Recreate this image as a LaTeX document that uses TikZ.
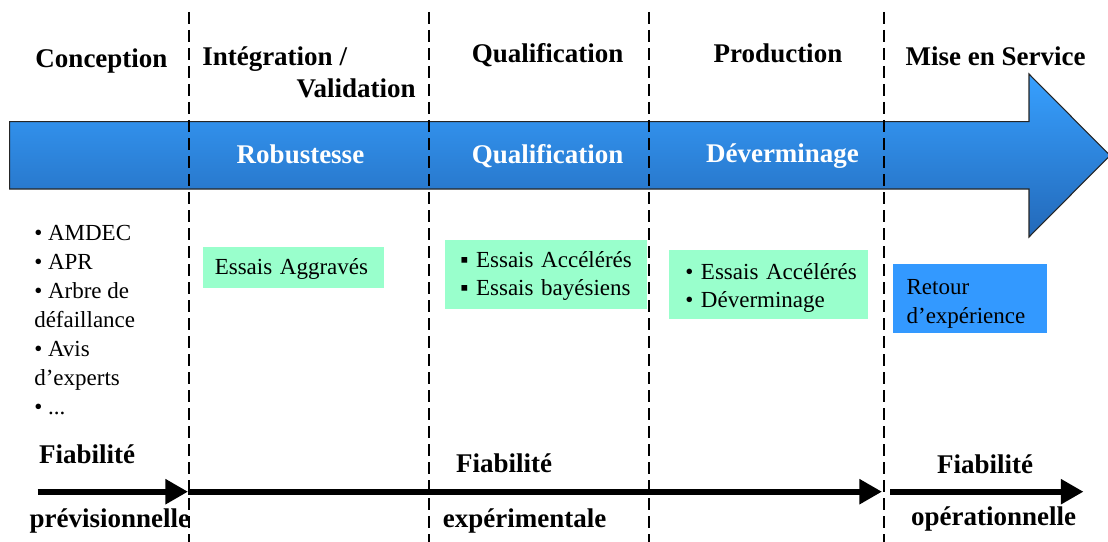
\documentclass[tikz,border=0pt]{standalone}
\usepackage{fontspec}
\setmainfont{Liberation Serif}
\usetikzlibrary{arrows.meta}
\definecolor{mint}{RGB}{153,255,204}
\definecolor{skyb}{RGB}{51,153,255}
\definecolor{arrtop}{RGB}{55,160,255}
\definecolor{arrbot}{RGB}{35,105,185}
\newcommand{\dropline}[1]{\rule{0pt}{#1}}
\begin{document}
\begin{tikzpicture}[x=0.75pt,y=-0.75pt,
  hdr/.style={font=\bfseries\fontsize{20.25}{24}\selectfont, inner sep=0, anchor=base},
  inarrow/.style={hdr, text=white},
  mintbox/.style={fill=mint, anchor=north west, inner ysep=0, align=left},
  sep/.style={line width=2.2pt, dash pattern=on 9pt off 4.5pt},
  fiab/.style={line width=4.3pt, -{Triangle[length=17pt,width=18pt]}}
]
\useasboundingbox (0,0) rectangle (1108,542);

% big blue arrow
\shadedraw[top color=arrtop, bottom color=arrbot, draw=black!85, line width=0.8pt]
  (9.6,121.7) -- (1029,121.7) -- (1029,74) -- (1110,155.5) -- (1029,237) -- (1029,189) -- (9.6,189) -- cycle;

% headers
\node[hdr] (conc) at (101.5,68) {Conception};
\node[hdr, anchor=base west] (integ) at (202,66) {Intégration /};
\node[hdr, anchor=base east] (valid) at (416,98) {Validation};
\node[hdr] (qualh) at (547.5,63) {Qualification};
\node[hdr] (prodh) at (778,63) {Production};
\node[hdr] (mise) at (995.5,66) {Mise en Service};

% labels in the arrow
\node[inarrow] (robu) at (300.5,164) {Robustesse};
\node[inarrow] (quala) at (547.5,163) {Qualification};
\node[inarrow] (deva) at (782.5,162) {Déverminage};

% left list
\node[anchor=north west, inner sep=0, align=left, font=\fontsize{17.25}{21.75}\selectfont] (list) at (34,225.5)
  {• AMDEC\\• APR\\• Arbre de\\défaillance\\• Avis\\d’experts\\• ...};

% boxes
\node[mintbox, minimum width=136pt, minimum height=30.75pt, text width=118pt, inner xsep=9pt,
  font=\fontsize{17.25}{21.75}\selectfont] (aggr) at (202.5,246.7) {\dropline{15pt}Essais Aggravés};
\node[mintbox, minimum width=151.5pt, minimum height=51.75pt, text width=129pt, inner xsep=11.25pt,
  font=\fontsize{17.25}{21}\selectfont] (qbox) at (445,240)
  {\mbox{\dropline{14pt}▪ Essais Accélérés}\\\mbox{▪ Essais bayésiens}};
\node[mintbox, minimum width=149.25pt, minimum height=51.75pt, text width=125.25pt, inner xsep=10.5pt,
  font=\fontsize{17.25}{20.75}\selectfont] (pbox) at (669,250)
  {\mbox{\dropline{16.5pt}• Essais Accélérés}\\\mbox{• Déverminage}};
\node[mintbox, fill=skyb, minimum width=114.75pt, minimum height=51.5pt, text width=95.25pt, inner xsep=10pt,
  font=\fontsize{17.25}{21.75}\selectfont] (rbox) at (893,264)
  {\dropline{19pt}Retour\\d’expérience};

% bottom labels
\node[hdr] (fia1) at (87,463) {Fiabilité};
\node[hdr] (fia2) at (504,472) {Fiabilité};
\node[hdr] (fia3) at (985,473) {Fiabilité};
\node[hdr] (prev) at (109.8,527) {prévisionnelle};
\node[hdr] (expe) at (524.6,527) {expérimentale};
\node[hdr] (oper) at (993.7,525) {opérationnelle};

% bottom arrows
\coordinate (f0) at (37.5,491.7);
\coordinate (f1) at (188,491.7);
\coordinate (f2) at (882,491.7);
\coordinate (f3) at (890,491.7);
\coordinate (f4) at (1083.5,491.7);
\draw[fiab] (f0) -- (f1);
\draw[fiab] (f1) -- (f2);
\draw[fiab] (f3) -- (f4);

% dashed separators
\foreach \x/\n in {189/d1,429/d2,649/d3,884/d4}{
  \coordinate (\n t) at (\x,12);
  \coordinate (\n b) at (\x,542);
  \draw[sep] (\n t) -- (\n b);
}
\end{tikzpicture}
\end{document}
